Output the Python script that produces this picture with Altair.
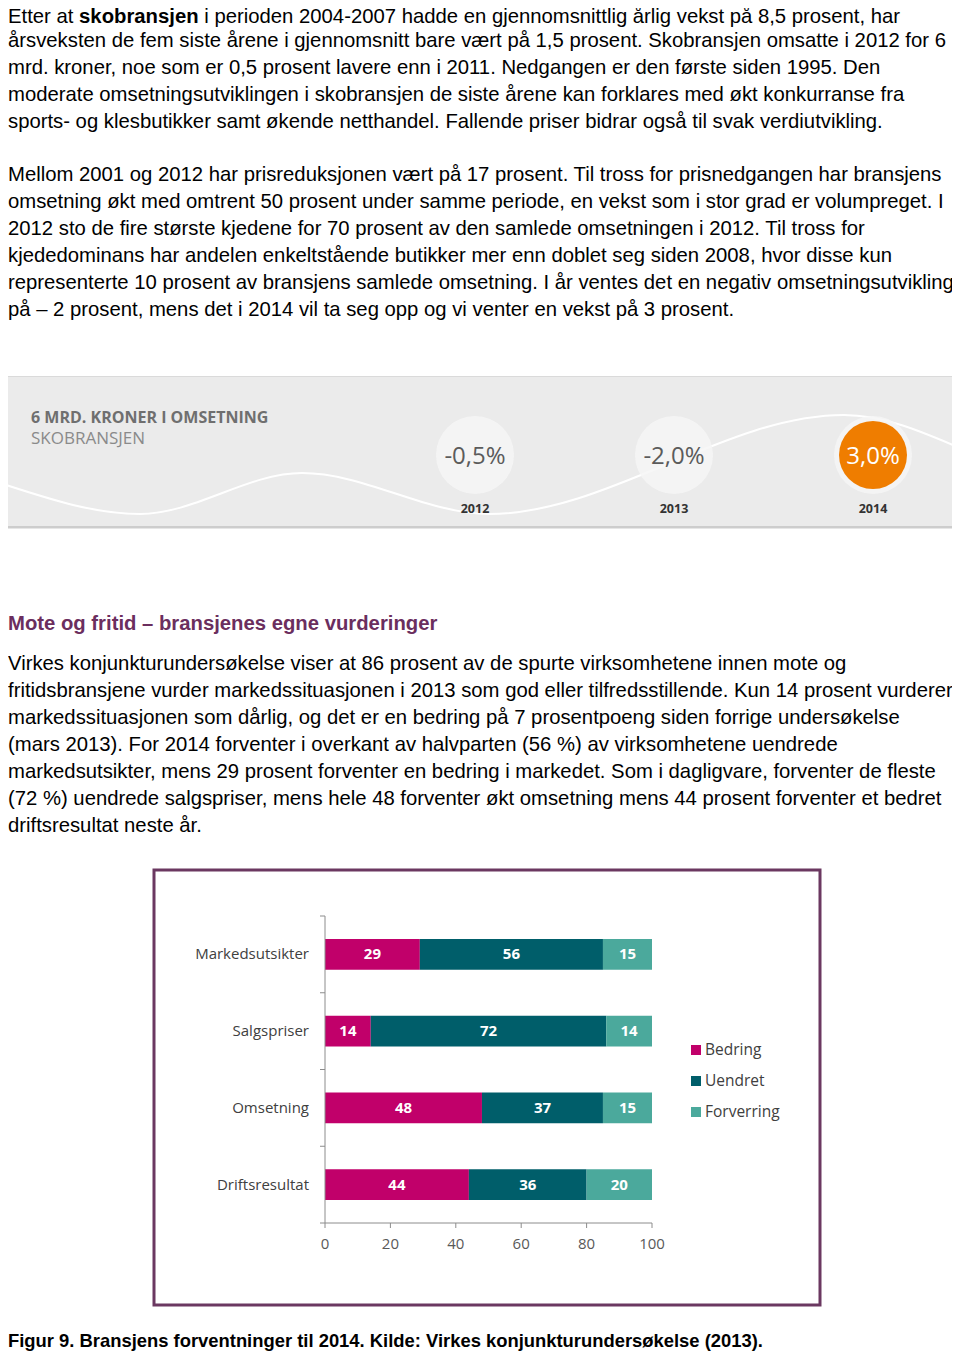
import altair as alt
import pandas as pd

# ---------------- data ----------------
categories = ["Markedsutsikter", "Salgspriser", "Omsetning", "Driftsresultat"]
bedring = [29, 14, 48, 44]
uendret = [56, 72, 37, 36]
forverring = [15, 14, 15, 20]
statuses = ["Bedring", "Uendret", "Forverring"]
status_colors = ["#c1006a", "#005e6a", "#4ba99c"]
x_ticks = [0, 20, 40, 60, 80, 100]

banner_years = ["2012", "2013", "2014"]
banner_values = ["-0,5%", "-2,0%", "3,0%"]
banner_title = "6 MRD. KRONER I OMSETNING"
banner_sub = "SKOBRANSJEN"

# decorative wave in the banner (page pixel coords)
wave_x = [6, 140, 302, 489, 844, 960]
wave_y = [485, 514, 473, 514, 415, 448]

p1_first = ["Etter at", "skobransjen",
            "i perioden 2004-2007 hadde en gjennomsnittlig årlig vekst på 8,5 prosent, har"]
p1_rest = [
    "årsveksten de fem siste årene i gjennomsnitt bare vært på 1,5 prosent. Skobransjen omsatte i 2012 for 6",
    "mrd. kroner, noe som er 0,5 prosent lavere enn i 2011. Nedgangen er den første siden 1995. Den",
    "moderate omsetningsutviklingen i skobransjen de siste årene kan forklares med økt konkurranse fra",
    "sports- og klesbutikker samt økende netthandel. Fallende priser bidrar også til svak verdiutvikling.",
]
p2 = [
    "Mellom 2001 og 2012 har prisreduksjonen vært på 17 prosent. Til tross for prisnedgangen har bransjens",
    "omsetning økt med omtrent 50 prosent under samme periode, en vekst som i stor grad er volumpreget. I",
    "2012 sto de fire største kjedene for 70 prosent av den samlede omsetningen i 2012. Til tross for",
    "kjededominans har andelen enkeltstående butikker mer enn doblet seg siden 2008, hvor disse kun",
    "representerte 10 prosent av bransjens samlede omsetning. I år ventes det en negativ omsetningsutvikling",
    "på – 2 prosent, mens det i 2014 vil ta seg opp og vi venter en vekst på 3 prosent.",
]
heading = "Mote og fritid – bransjenes egne vurderinger"
p3 = [
    "Virkes konjunkturundersøkelse viser at 86 prosent av de spurte virksomhetene innen mote og",
    "fritidsbransjene vurder markedssituasjonen i 2013 som god eller tilfredsstillende. Kun 14 prosent vurderer",
    "markedssituasjonen som dårlig, og det er en bedring på 7 prosentpoeng siden forrige undersøkelse",
    "(mars 2013). For 2014 forventer i overkant av halvparten (56 %) av virksomhetene uendrede",
    "markedsutsikter, mens 29 prosent forventer en bedring i markedet. Som i dagligvare, forventer de fleste",
    "(72 %) uendrede salgspriser, mens hele 48 forventer økt omsetning mens 44 prosent forventer et bedret",
    "driftsresultat neste år.",
]
caption = "Figur 9. Bransjens forventninger til 2014. Kilde: Virkes konjunkturundersøkelse (2013)."

# ---------------- layout constants (chart px = page px - 8) ----------------
W, H = 944, 1343
BODY_FONT = "Liberation Sans"
BODY_SIZE = 20.3
LINE_H = 27
CAL = "Liberation Sans Narrow, Open Sans, sans-serif"

one = alt.Data(values=[{}])


def text_at(txt, x, y, size=BODY_SIZE, weight="normal", color="#000000",
            font=BODY_FONT, align="left", baseline="alphabetic"):
    return alt.Chart(one).mark_text(
        text=txt, font=font, fontSize=size, fontWeight=weight, color=color,
        align=align, baseline=baseline, lineHeight=LINE_H,
    ).encode(x=alt.value(x), y=alt.value(y))


def rect_at(x, x2, y, y2, fill=None, stroke=None, sw=0):
    props = dict(strokeWidth=sw)
    if fill is not None:
        props["fill"] = fill
    else:
        props["fillOpacity"] = 0
    if stroke is not None:
        props["stroke"] = stroke
    return alt.Chart(one).mark_rect(**props).encode(
        x=alt.value(x), x2=alt.value(x2), y=alt.value(y), y2=alt.value(y2))


layers = []

# ---- paragraph 1 ----
space = 0.278 * BODY_SIZE         # Arial space width
w_normal = 3.224 * BODY_SIZE      # width of "Etter at" (Arial metrics)
w_bold = 5.891 * BODY_SIZE        # width of bold "skobransjen"
L1 = 14.5
layers.append(text_at(p1_first[0], 0, L1))
layers.append(text_at(p1_first[1], w_normal + space, L1, weight="bold"))
layers.append(text_at(p1_first[2], w_normal + w_bold + 2 * space, L1))
layers.append(text_at(p1_rest, 0, 12 + LINE_H))

# ---- paragraph 2 ----
layers.append(text_at(p2, 0, 173))

# ---- banner ----
layers.append(rect_at(-2, 944, 368, 519, fill="#ebebeb"))
layers.append(rect_at(-2, 944, 368, 369, fill="#dadada"))
layers.append(rect_at(-2, 944, 518, 520.5, fill="#cdcdcd"))

wave_df = pd.DataFrame({"wx": wave_x, "wy": wave_y})
layers.append(
    alt.Chart(wave_df).mark_line(color="#ffffff", strokeWidth=2, interpolate="monotone").encode(
        x=alt.X("wx:Q", scale=alt.Scale(domain=[8, 952], range=[0, 944]), axis=None),
        y=alt.Y("wy:Q", scale=alt.Scale(domain=[8, 1351], range=[0, 1343]), axis=None),
    )
)

layers.append(text_at(banner_title, 23, 415, size=16, weight="bold", color="#6f6f6f",
                      font="Open Sans"))
layers.append(text_at(banner_sub, 23, 436, size=17, color="#8a8a8a", font="Open Sans"))

banner_df = pd.DataFrame({"year": banner_years, "val": banner_values,
                          "idx": list(range(len(banner_years)))})
bx = alt.X("idx:Q", scale=alt.Scale(domain=[0, len(banner_years) - 1], range=[467, 865],
                                    nice=False, zero=False), axis=None)
# Vega circle size = area of bounding square -> r = sqrt(size)/2
layers.append(
    alt.Chart(banner_df).mark_circle(size=78 * 78, color="#f6f6f6", opacity=0.85).encode(
        x=bx, y=alt.value(447))
)
layers.append(
    alt.Chart(banner_df).transform_filter(alt.datum.year == "2014").mark_circle(
        size=68 * 68, color="#ef7d00", opacity=1).encode(x=bx, y=alt.value(447))
)
layers.append(
    alt.Chart(banner_df).mark_text(font="Open Sans", fontSize=24, baseline="middle").encode(
        x=bx, y=alt.value(449), text="val:N",
        color=alt.Color("year:N", scale=alt.Scale(domain=banner_years,
                                                  range=["#5b5b5b", "#5b5b5b", "#ffffff"]),
                        legend=None),
    )
)
layers.append(
    alt.Chart(banner_df).mark_text(font="Open Sans", fontSize=12.5, fontWeight="bold",
                                   color="#333333", baseline="middle").encode(
        x=bx, y=alt.value(501), text="year:N")
)

# ---- heading + paragraph 3 ----
layers.append(text_at(heading, 0, 622, weight="bold", color="#6b2e5e"))
layers.append(text_at(p3, 0, 662))

# ---- bar chart ----
layers.append(rect_at(146, 812, 862, 1297, stroke="#6b3861", sw=3))

rows = []
for i, c in enumerate(categories):
    for j, (s, v) in enumerate(zip(statuses, [bedring[i], uendret[i], forverring[i]])):
        rows.append({"category": c, "status": s, "value": v, "order": j})
bar_df = pd.DataFrame(rows)

xs = alt.Scale(domain=[0, 100], range=[317, 644], nice=False, zero=False)
ys = alt.Scale(domain=categories, range=[908, 1215], paddingInner=0.6, paddingOuter=0.3)

stacked = alt.Chart(bar_df).transform_stack(
    stack="value", as_=["v0", "v1"], groupby=["category"],
    sort=[alt.SortField("order", order="ascending")],
).transform_calculate(mid="(datum.v0 + datum.v1) / 2")

layers.append(
    stacked.mark_bar().encode(
        x=alt.X("v0:Q", scale=xs, axis=None),
        x2="v1:Q",
        y=alt.Y("category:N", scale=ys, axis=None),
        color=alt.Color("status:N", scale=alt.Scale(domain=statuses, range=status_colors),
                        legend=None),
    )
)
layers.append(
    stacked.mark_text(color="#ffffff", fontWeight="bold", fontSize=15, font=CAL,
                      baseline="middle").encode(
        x=alt.X("mid:Q", scale=xs, axis=None),
        y=alt.Y("category:N", scale=ys, axis=None),
        text="value:Q",
    )
)

# category labels
cat_df = pd.DataFrame({"category": categories})
layers.append(
    alt.Chart(cat_df).mark_text(align="right", baseline="middle", fontSize=15, font=CAL,
                                color="#404040").encode(
        x=alt.value(301),
        y=alt.Y("category:N", scale=ys, axis=None),
        text="category:N",
    )
)

# axes
layers.append(
    alt.Chart(one).mark_rule(color="#8c8c8c", strokeWidth=1).encode(
        x=alt.value(317), y=alt.value(908), y2=alt.value(1215))
)
layers.append(
    alt.Chart(one).mark_rule(color="#8c8c8c", strokeWidth=1).encode(
        x=alt.value(317), x2=alt.value(644), y=alt.value(1215))
)
bound_df = pd.DataFrame({"b": list(range(len(categories) + 1))})
layers.append(
    alt.Chart(bound_df).mark_rule(color="#8c8c8c", strokeWidth=1).encode(
        x=alt.value(312), x2=alt.value(317),
        y=alt.Y("b:Q", scale=alt.Scale(domain=[0, len(categories)], range=[908, 1215]),
                axis=None),
    )
)
tick_df = pd.DataFrame({"t": x_ticks})
layers.append(
    alt.Chart(tick_df).mark_rule(color="#8c8c8c", strokeWidth=1).encode(
        x=alt.X("t:Q", scale=xs, axis=None), y=alt.value(1215), y2=alt.value(1220))
)
layers.append(
    alt.Chart(tick_df).mark_text(baseline="middle", fontSize=15, font=CAL,
                                 color="#595959").encode(
        x=alt.X("t:Q", scale=xs, axis=None), y=alt.value(1236), text="t:Q")
)

# legend (manual, through a point scale)
leg_df = pd.DataFrame({"status": statuses})
ly = alt.Y("status:N", scale=alt.Scale(domain=statuses, range=[1042, 1104], padding=0),
           axis=None)
layers.append(
    alt.Chart(leg_df).mark_square(size=100, opacity=1).encode(
        x=alt.value(688), y=ly,
        color=alt.Color("status:N", scale=alt.Scale(domain=statuses, range=status_colors),
                        legend=None),
    )
)
layers.append(
    alt.Chart(leg_df).mark_text(align="left", baseline="middle", fontSize=15.5, font=CAL,
                                color="#404040").encode(
        x=alt.value(697), y=ly, text="status:N")
)

# ---- caption ----
layers.append(text_at(caption, 0, 1339, size=18.4, weight="bold"))

chart = alt.layer(*layers).resolve_scale(
    x="independent", y="independent", color="independent"
).properties(
    width=W, height=H, padding=0,
    autosize=alt.AutoSizeParams(type="none"),
).configure_view(stroke=None)

chart.save("out.html", embed_options={"renderer": "svg", "actions": False})
